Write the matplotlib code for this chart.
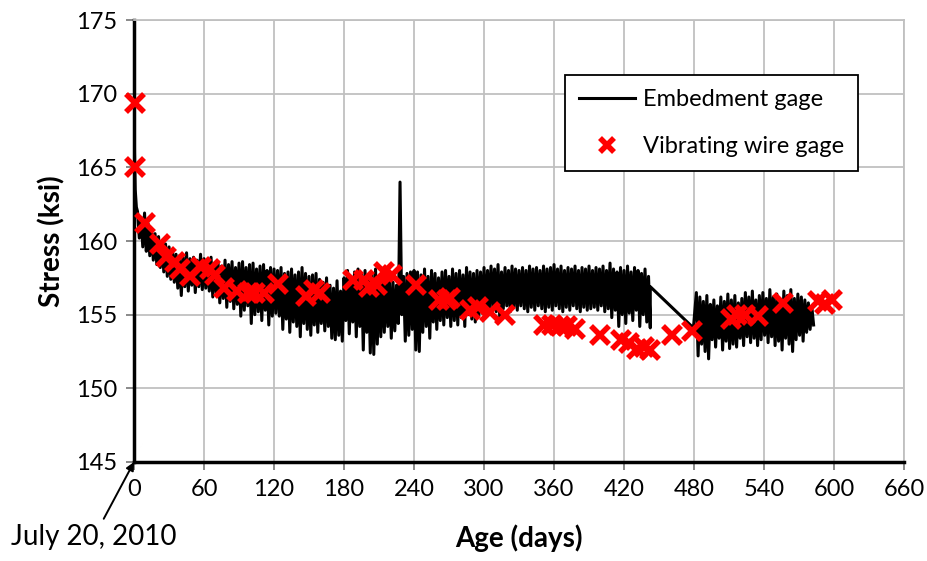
import matplotlib
matplotlib.use("Agg")
import matplotlib.pyplot as plt

plt.rcParams['font.family'] = ['Lato', 'DejaVu Sans']

# Embedment gage: initial drop right after transfer
emb_start_day = [0, 0.4, 1, 2]
emb_start_stress = [169.8, 166.0, 163.5, 162.3]

# Embedment gage, first period: daily high / low every 3 days (day 3 .. 441)
emb1_day = list(range(3, 444, 3))
emb1_hi = [
    162.0, 161.6, 161.9, 161.2, 160.8, 160.5, 160.3, 160.0, 159.8, 159.6,
    159.4, 159.1, 159.0, 158.9, 159.2, 158.8, 158.9, 158.7, 159.1, 158.8,
    158.7, 158.9, 158.5, 158.6, 158.3, 158.7, 158.4, 158.6, 158.2, 158.5,
    158.6, 158.2, 158.4, 158.5, 158.1, 158.3, 158.4, 158.0, 158.2, 158.1,
    158.0, 158.2, 157.8, 157.9, 158.1, 157.7, 157.9, 158.2, 157.8, 157.6,
    157.7, 157.8, 157.4, 157.2, 157.5, 157.0, 156.8, 157.3, 156.6, 157.5,
    158.0, 157.6, 157.9, 158.1, 157.7, 158.0, 157.5, 157.8, 158.1, 157.6,
    157.7, 157.5, 157.4, 157.2, 157.0, 164.0, 157.6, 157.8, 157.9, 158.0,
    157.9, 157.7, 158.1, 157.6, 158.0, 157.8, 157.5, 157.9, 158.0, 157.6,
    158.1, 157.8, 158.0, 157.7, 158.2, 157.9, 157.8, 158.0, 157.9, 158.2,
    158.0, 158.3, 158.1, 158.4, 157.9, 158.2, 158.0, 158.3, 158.1, 158.0,
    158.2, 158.0, 158.3, 158.1, 158.2, 158.0, 158.3, 158.1, 158.2, 158.4,
    158.1, 158.3, 158.0, 158.2, 158.1, 158.3, 158.0, 158.2, 158.1, 158.3,
    158.0, 158.2, 158.1, 158.3, 158.0, 158.5, 158.1, 157.9, 158.2, 158.0,
    158.3, 157.9, 158.2, 158.0, 157.8, 158.1, 157.6,
]
emb1_lo = [
    160.2, 159.6, 159.3, 159.0, 158.7, 158.4, 158.2, 157.9, 157.6, 157.4,
    157.2, 156.8, 156.3, 156.9, 156.6, 157.0, 156.5, 156.9, 156.7, 156.8,
    156.6, 156.2, 156.5, 155.8, 156.1, 155.5, 155.9, 155.4, 155.7, 154.9,
    155.3, 155.6, 154.4, 155.0, 155.2, 154.6, 155.3, 154.3, 154.9, 155.1,
    154.9, 154.0, 154.7, 153.8, 154.5, 154.2, 153.5, 154.4, 154.0, 153.6,
    154.3, 153.8, 154.4, 153.9, 154.2, 153.4, 153.3, 153.6, 153.2, 154.6,
    153.7, 154.5, 153.5, 154.2, 152.6, 153.8, 152.4, 152.3, 153.0, 153.5,
    153.8, 154.2, 153.4, 153.9, 154.4, 155.0, 153.2, 153.6, 154.0, 152.6,
    152.5, 153.8, 154.2, 153.4, 154.5, 154.0, 154.6, 154.3, 154.8, 154.2,
    154.6, 154.3, 154.8, 154.2, 155.0, 154.7, 154.5, 154.9, 155.1, 155.0,
    155.3, 155.5, 155.2, 154.7, 155.4, 155.6, 155.2, 155.5, 155.3, 155.6,
    155.4, 155.2, 155.5, 155.3, 155.6, 155.4, 155.2, 155.5, 155.3, 155.6,
    155.4, 155.2, 155.5, 155.3, 155.6, 155.4, 155.2, 155.5, 155.3, 155.4,
    155.5, 155.3, 155.6, 155.2, 155.4, 154.8, 155.3, 154.2, 155.0, 154.4,
    155.1, 154.6, 155.3, 154.2, 155.0, 154.5, 154.1,
]

# gap in the record (straight connection)
emb_gap_day = [442.5, 479.5]
emb_gap_stress = [156.9, 154.1]

# Embedment gage, second period (day 482 .. 581)
emb2_day = list(range(482, 582, 3))
emb2_hi = [
    156.5, 156.2, 155.9, 156.3, 155.7, 156.0, 155.6, 156.2, 155.9, 156.4,
    156.0, 156.3, 155.8, 156.1, 156.5, 156.2, 156.6, 156.0, 156.3, 156.5,
    156.1, 156.7, 156.2, 156.4, 156.0, 156.6, 156.3, 156.7, 156.1, 156.4,
    156.2, 156.0, 155.8, 155.5,
]
emb2_lo = [
    152.2, 153.0, 152.5, 152.0, 153.3, 152.8, 153.4, 152.6, 153.2, 152.7,
    153.0, 152.8, 153.4, 152.9, 153.5, 153.1, 153.4, 152.9, 153.3, 153.6,
    153.1, 153.5, 152.9, 153.2, 152.6, 153.4, 153.0, 152.5, 153.3, 153.6,
    153.2, 153.8, 154.0, 154.3,
]

# Vibrating wire gage readings
vw_day = [1, 1, 9, 22, 27, 35, 39, 48, 57, 65, 69, 77, 88, 98, 104, 111, 123,
          147, 154, 159, 188, 197, 201, 208, 214, 221, 242, 261, 268, 271,
          288, 295, 305, 318, 351, 358, 365, 371, 378, 399, 417, 424, 431,
          437, 442, 461, 478, 512, 517, 524, 535, 556, 586, 592, 598]
vw_stress = [169.4, 165.0, 161.2, 159.8, 158.9, 158.6, 158.1, 157.6, 158.25,
             158.1, 157.7, 156.8, 156.6, 156.5, 156.5, 156.5, 157.1,
             156.3, 156.7, 156.45, 157.35, 157.35, 156.9, 157.0, 157.9,
             157.7, 157.0, 156.0, 156.0, 156.1, 155.3, 155.5, 155.2, 155.0,
             154.3, 154.3, 154.2, 154.2, 154.0, 153.6, 153.3, 153.1, 152.7,
             152.8, 152.6, 153.6, 153.9, 154.7, 155.0, 155.0, 154.9, 155.8,
             155.9, 155.7, 156.0]

x_ticks = list(range(0, 661, 60))
y_ticks = list(range(145, 176, 5))

# join readings into one trace: high at the day, low half a step later
ex = list(emb_start_day)
ey = list(emb_start_stress)
for d, h, l in zip(emb1_day, emb1_hi, emb1_lo):
    ex += [d, d + 1.5]
    ey += [h, l]
ex += emb_gap_day
ey += emb_gap_stress
for d, h, l in zip(emb2_day, emb2_hi, emb2_lo):
    ex += [d, d + 1.5]
    ey += [h, l]

fig = plt.figure(figsize=(9.27, 5.61), dpi=100)
ax = fig.add_axes([0.1446, 0.1765, 0.8306, 0.7878])

ax.plot(ex, ey, color='black', lw=2.2, label='Embedment gage', zorder=3)
ax.plot(vw_day, vw_stress, ls='none', marker='x', color='red', ms=12.5, mew=4,
        label='Vibrating wire gage', zorder=4, clip_on=False)

ax.set_xlim(0, 660)
ax.set_ylim(145, 175)
ax.set_xticks(x_ticks)
ax.set_yticks(y_ticks)
ax.grid(True, color='#c0c0c0', lw=1.3, zorder=0)
ax.set_axisbelow(True)

for s in ['left', 'bottom']:
    ax.spines[s].set_color('black')
    ax.spines[s].set_linewidth(2.5)
for s in ['top', 'right']:
    ax.spines[s].set_color('#c0c0c0')
    ax.spines[s].set_linewidth(1.3)

ax.tick_params(axis='both', direction='out', length=6, width=1.3, color='#808080',
               labelsize=17, pad=6)

ax.set_xlabel('Age (days)', fontsize=20, fontweight='bold', labelpad=18)
ax.set_ylabel('Stress (ksi)', fontsize=20, fontweight='bold', labelpad=8)

leg = ax.legend(loc='upper right', bbox_to_anchor=(0.94, 0.876), fontsize=17,
                frameon=True, fancybox=False, edgecolor='black', framealpha=1,
                handlelength=2.4, handletextpad=0.3, labelspacing=1.1,
                markerscale=0.75, borderpad=0.6, borderaxespad=0)
leg.get_frame().set_linewidth(1.3)

ax.annotate('July 20, 2010', xy=(0, 145), xytext=(94, 24), textcoords='figure pixels',
            ha='center', va='center', fontsize=20, annotation_clip=False,
            arrowprops=dict(arrowstyle='-|>', color='black', lw=1.4,
                            mutation_scale=12, shrinkA=2, shrinkB=0))

fig.savefig('out.png', dpi=100)
